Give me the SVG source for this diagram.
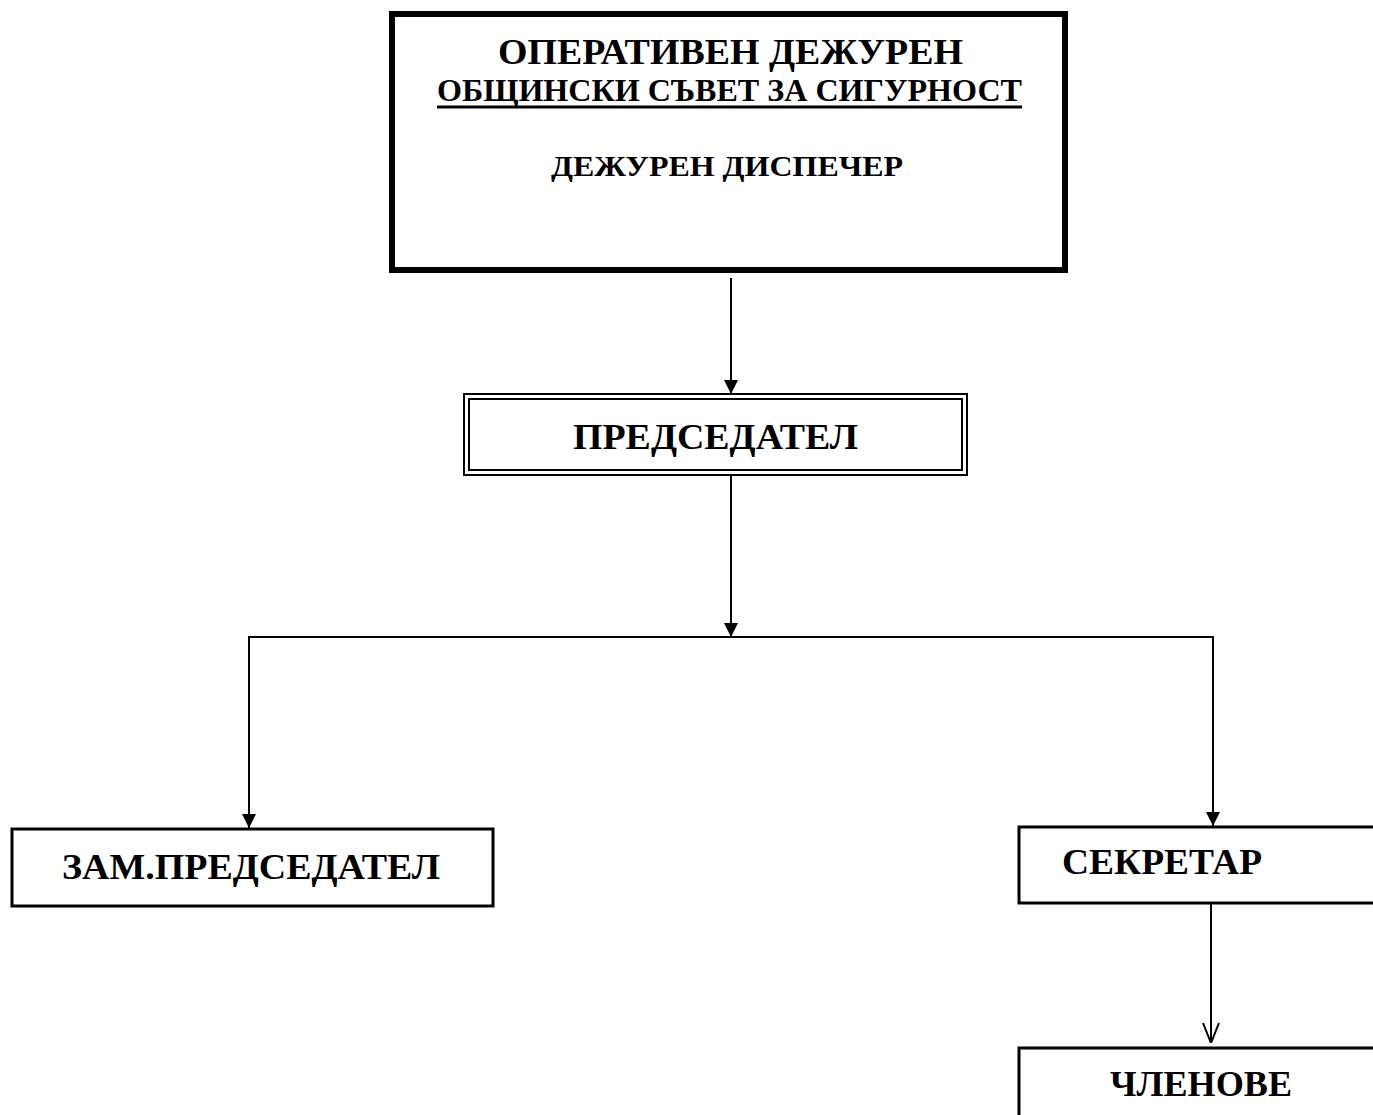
<svg xmlns="http://www.w3.org/2000/svg" width="1373" height="1115" viewBox="0 0 1373 1115">
<style>
text{font-family:"Liberation Serif","Times New Roman",serif;font-weight:bold;fill:#000}
.box{fill:#fff;stroke:#000}
.ln{fill:none;stroke:#000;stroke-width:2}
</style>
<defs>
<marker id="fa" viewBox="0 0 10 10" refX="10" refY="5" markerWidth="14" markerHeight="14" markerUnits="userSpaceOnUse" orient="auto"><path d="M0,0 L10,5 L0,10 z" fill="#000"/></marker>
<marker id="oa" viewBox="0 0 10 10" refX="10" refY="5" markerWidth="20" markerHeight="20" markerUnits="userSpaceOnUse" orient="auto"><path d="M0,1 L10,5 L0,9" fill="none" stroke="#000" stroke-width="1"/></marker>
</defs>
<rect width="1373" height="1115" fill="#fff"/>
<g id="connectors">
<line class="ln" x1="731" y1="278" x2="731" y2="394" marker-end="url(#fa)"/>
<line class="ln" x1="731" y1="476" x2="731" y2="637" marker-end="url(#fa)"/>
<polyline class="ln" points="249,828 249,637 1213,637 1213,826"/>
<line class="ln" x1="249" y1="637" x2="249" y2="828" marker-end="url(#fa)"/>
<line class="ln" x1="1213" y1="637" x2="1213" y2="826" marker-end="url(#fa)"/>
<line class="ln" x1="1211" y1="904" x2="1211" y2="1043" marker-end="url(#oa)"/>
</g>
<g id="n-operativen">
<rect class="box" x="392" y="14" width="673" height="256" stroke-width="6"/>
<text x="498" y="64" font-size="36" textLength="465" lengthAdjust="spacingAndGlyphs">ОПЕРАТИВЕН ДЕЖУРЕН</text>
<text x="437" y="101" font-size="32" textLength="585" lengthAdjust="spacingAndGlyphs">ОБЩИНСКИ СЪВЕТ ЗА СИГУРНОСТ</text>
<line x1="437" y1="107" x2="1022" y2="107" stroke="#000" stroke-width="3"/>
<text x="551" y="176" font-size="29" textLength="352" lengthAdjust="spacingAndGlyphs">ДЕЖУРЕН ДИСПЕЧЕР</text>
</g>
<g id="n-predsedatel">
<rect class="box" x="464" y="394" width="503" height="81" stroke-width="2"/>
<rect class="box" x="469" y="399" width="493" height="71" stroke-width="2"/>
<text x="573" y="449" font-size="36" textLength="285" lengthAdjust="spacingAndGlyphs">ПРЕДСЕДАТЕЛ</text>
</g>
<g id="n-zam">
<rect class="box" x="12" y="829" width="481" height="77" stroke-width="3"/>
<text x="62" y="879" font-size="36" textLength="378" lengthAdjust="spacingAndGlyphs">ЗАМ.ПРЕДСЕДАТЕЛ</text>
</g>
<g id="n-sekretar">
<rect class="box" x="1019" y="827" width="360" height="76" stroke-width="3"/>
<text x="1062" y="874" font-size="36" textLength="200" lengthAdjust="spacingAndGlyphs">СЕКРЕТАР</text>
</g>
<g id="n-chlenove">
<rect class="box" x="1019" y="1048" width="360" height="80" stroke-width="3"/>
<text x="1110" y="1096" font-size="36" textLength="182" lengthAdjust="spacingAndGlyphs">ЧЛЕНОВЕ</text>
</g>
</svg>
